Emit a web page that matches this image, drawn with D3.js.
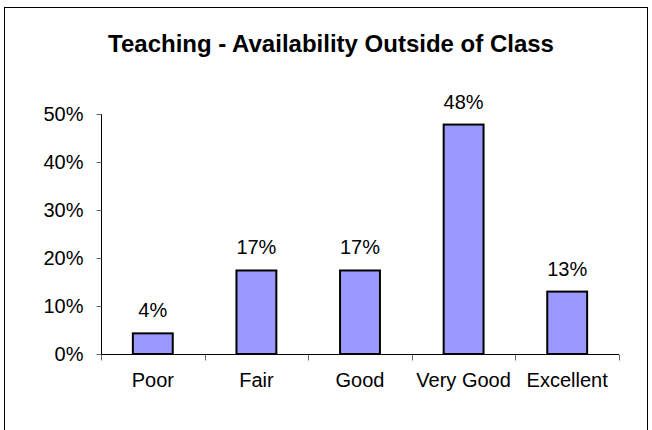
<!DOCTYPE html>
<html>
<head>
<meta charset="utf-8">
<script src="https://cdn.jsdelivr.net/npm/d3@7"></script>
<style>
  body { margin: 0; background: #fff; }
  text { font-family: "Liberation Sans", Arial, sans-serif; fill: #000; }
</style>
</head>
<body>
<svg id="chart" width="652" height="430"></svg>
<script>
const categories = ["Poor", "Fair", "Good", "Very Good", "Excellent"];
const values = [0.043, 0.174, 0.174, 0.478, 0.130];
const valueLabels = ["4%", "17%", "17%", "48%", "13%"];
const yTicks = [0, 0.1, 0.2, 0.3, 0.4, 0.5];

var svg = d3.select("#chart"),
  width = +svg.attr("width"),
  height = +svg.attr("height");

// outer frame (bottom edge runs off the picture)
svg.append("rect")
  .attr("x", 4.5).attr("y", 7.5)
  .attr("width", 643).attr("height", 440)
  .attr("fill", "#fff")
  .attr("stroke", "#000")
  .attr("stroke-width", 1);

svg.append("text")
  .attr("x", 331).attr("y", 52)
  .attr("text-anchor", "middle")
  .attr("font-size", "24px")
  .attr("font-weight", "bold")
  .text("Teaching - Availability Outside of Class");

var x = d3.scaleBand().domain(categories).range([101, 619]).paddingInner(0).paddingOuter(0);
var y = d3.scaleLinear().domain([0, 0.5]).range([354, 114]);

// y axis
var yAxis = svg.append("g")
  .attr("transform", "translate(101.5,0)")
  .call(d3.axisLeft(y).tickValues(yTicks).tickFormat(d3.format(".0%")).tickSize(5).tickPadding(13));
yAxis.select(".domain").attr("stroke", "#000").attr("d", "M0," + y(0.5) + "V" + y(0));
yAxis.selectAll(".tick line").attr("stroke", "#666");
yAxis.selectAll(".tick text").attr("font-size", "20px").attr("font-family", "Liberation Sans, Arial, sans-serif");

// x axis
var xAxis = svg.append("g")
  .attr("transform", "translate(0," + (y(0) + 0.5) + ")")
  .call(d3.axisBottom(x).tickSize(0).tickPadding(18.5));
xAxis.select(".domain").attr("stroke", "#000").attr("d", "M101,0H619");
xAxis.selectAll(".tick text").attr("font-size", "20px").attr("font-family", "Liberation Sans, Arial, sans-serif");
var bounds = categories.map(c => x(c)).concat([619]);
xAxis.selectAll(".sep")
  .data(bounds)
  .enter()
  .append("line")
  .attr("class", "sep")
  .attr("x1", d => Math.round(d) + 0.5).attr("x2", d => Math.round(d) + 0.5)
  .attr("y1", 0).attr("y2", 6)
  .attr("stroke", "#666");

// bars
var barW = x.bandwidth() * 0.385;
svg.append("g")
  .selectAll("rect")
  .data(values)
  .enter()
  .append("rect")
  .attr("x", (d, i) => x(categories[i]) + x.bandwidth() / 2 - barW / 2)
  .attr("y", d => y(d))
  .attr("width", barW)
  .attr("height", d => y(0) - y(d))
  .attr("fill", "#9999FF")
  .attr("stroke", "#000")
  .attr("stroke-width", 2);

svg.append("g")
  .selectAll("text")
  .data(values)
  .enter()
  .append("text")
  .attr("x", (d, i) => x(categories[i]) + x.bandwidth() / 2)
  .attr("y", d => y(d) - 16)
  .attr("text-anchor", "middle")
  .attr("font-size", "20px")
  .text((d, i) => valueLabels[i]);
</script>
</body>
</html>
